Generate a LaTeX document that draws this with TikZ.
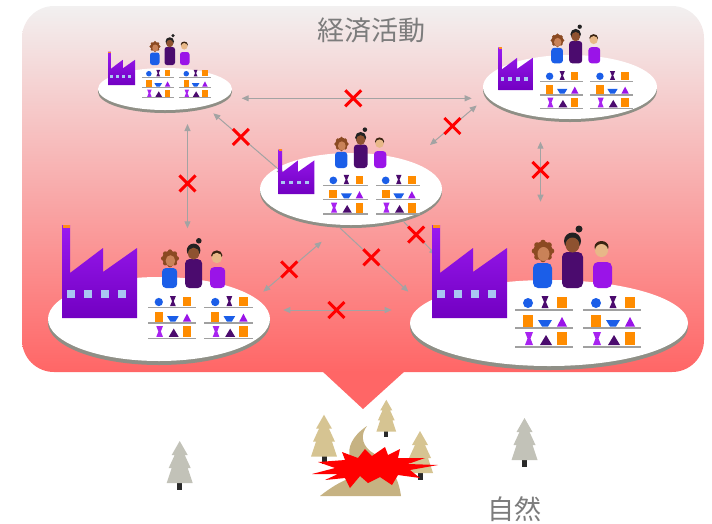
\documentclass[tikz,border=0pt]{standalone}
\usepackage{fontspec}
\newfontfamily\jpfont{Noto Sans CJK JP}
\usetikzlibrary{arrows.meta,shapes.misc}

\definecolor{bgtop}{HTML}{F2F0F0}
\definecolor{bgmid}{HTML}{F7C8C8}
\definecolor{bgbot}{HTML}{FF6666}
\definecolor{rim}{HTML}{8F8F86}
\definecolor{linkgray}{HTML}{A3A3A3}
\definecolor{violettop}{HTML}{9A1AF0}
\definecolor{violetbot}{HTML}{7200C2}
\definecolor{winblue}{HTML}{A9C6F2}
\definecolor{chimtip}{HTML}{FF8C1A}
\definecolor{itemblue}{HTML}{1B5EE8}
\definecolor{itemdark}{HTML}{4B0B6E}
\definecolor{itempurple}{HTML}{9A14E8}
\definecolor{itemlilac}{HTML}{A823F0}
\definecolor{itemorange}{HTML}{FF8C00}
\definecolor{shelfgray}{HTML}{A0A0A0}
\definecolor{skinA}{HTML}{C98258}
\definecolor{hairA}{HTML}{8B4A22}
\definecolor{skinB}{HTML}{8E5230}
\definecolor{hairB}{HTML}{222222}
\definecolor{skinC}{HTML}{E8B888}
\definecolor{hairC}{HTML}{3A2412}
\definecolor{treegray}{HTML}{C2C2B8}
\definecolor{treetan}{HTML}{D6C492}
\definecolor{hilltan}{HTML}{C6B282}
\definecolor{trunk}{HTML}{2A2A2A}
\definecolor{textgray}{HTML}{7C7C7C}

% island disc: centre x, centre y, radii, rim drop
\newcommand{\isle}[5]{%
  \fill[rim] (#1,#2+#5) ellipse ({#3pt} and {#4pt});
  \fill[white] (#1,#2) ellipse ({#3pt} and {#4pt});}

% factory, origin at its lower left corner
\newcommand{\factory}[3]{%
  \begin{scope}[shift={(#1,#2)},scale=#3]
    \shade[top color=violettop,bottom color=violetbot] (0,0) -- (0,-93) -- (8,-93) -- (8,-45) -- (41,-70) -- (41,-46) -- (75,-70) -- (75,0) -- cycle;
    \fill[chimtip] (0.5,-93) rectangle (7.5,-90);
    \foreach \wx in {5,22,39,56}
      \fill[winblue] (\wx,-28) rectangle ++(8,8);
  \end{scope}}

% three workers, origin under the middle one
\newcommand{\crowd}[3]{%
  \begin{scope}[shift={(#1,#2)},scale=#3]
    \fill[hairA] (-30,-37) circle (9.5);
    \foreach \a in {0,45,...,315}
      \fill[hairA] ([shift={(\a:8.5)}]-30,-37) circle (2.8);
    \fill[skinA] (-29.5,-34) ellipse (6 and 7);
    \fill[itemblue,rounded corners={5pt*#3}] (-40,0) rectangle (-21,-25);
    \fill[itemdark,rounded corners={5pt*#3}] (-11,0) rectangle (10,-36);
    \fill[hairB] (-0.5,-47) circle (8.5);
    \fill[hairB] (6,-59) circle (3.5);
    \fill[skinB] (-0.5,-43) ellipse (7 and 7.5);
    \fill[itempurple,rounded corners={5pt*#3}] (20,0) rectangle (39,-26);
    \fill[hairC] (28.5,-41) ellipse (7 and 6);
    \fill[skinC] (28.5,-37.5) ellipse (6.5 and 6.5);
  \end{scope}}

% two shelf units, origin at the left end of the top board
\newcommand{\goods}[3]{%
  \begin{scope}[shift={(#1,#2)},scale=#3]
    \foreach \c in {0,68}{
      \begin{scope}[shift={(\c,0)}]
        \fill[shelfgray] (0,-0.2) rectangle (58,1.6);
        \fill[shelfgray] (0,18.3) rectangle (58,20.1);
        \fill[shelfgray] (0,36.8) rectangle (58,38.6);
        \fill[itemblue] (13,-6) circle (5);
        \fill[itemdark] (26.5,-13) -- (33.5,-13) -- (31,-7) -- (33.5,-1) -- (26.5,-1) -- (29,-7) -- cycle;
        \fill[itemorange] (42,-12) rectangle (52,-1);
        \fill[itemorange] (8,6) rectangle (18,17.5);
        \fill[itemblue] (23,11) -- (37,11) -- (33,17.5) -- (27,17.5) -- cycle;
        \fill[itempurple] (42,17.5) -- (47,8) -- (52,17.5) -- cycle;
        \fill[itemlilac] (10,23) -- (18,23) -- (15.5,29.5) -- (18,36) -- (10,36) -- (12.5,29.5) -- cycle;
        \fill[itemdark] (25,36) -- (31,26) -- (37,36) -- cycle;
        \fill[itemorange] (42,23) rectangle (52,36);
      \end{scope}}
  \end{scope}}

% pine tree, origin at the foot of the crown
\newcommand{\pine}[4]{%
  \begin{scope}[shift={(#1,#2)},scale=#3]
    \fill[trunk] (-2.5,-1) rectangle (2.5,7);
    \fill[#4] (0,-42) -- (-8,-28) -- (-5,-28) -- (-11,-15) -- (-8,-15) -- (-13,0) -- (13,0) -- (8,-15) -- (11,-15) -- (5,-28) -- (8,-28) -- cycle;
  \end{scope}}

\begin{document}
\begin{tikzpicture}[line cap=round,line join=round,x=1pt,y=-1pt,
  >={Triangle[length=7pt,width=6pt]},
  link/.style={draw=linkgray,line width=1pt},
  nogo/.style={draw=red,cross out,line width=3pt,line cap=butt,minimum size=13pt,inner sep=0pt},
  title/.style={font=\jpfont\fontsize{27}{30}\selectfont,text=textgray,inner sep=0pt}]
\useasboundingbox (0,0) rectangle (712,523);

\shade[top color=bgtop,middle color=bgmid,bottom color=bgbot,rounded corners=32pt] (22,6) rectangle (704,372);
\fill[bgbot] (322,371) -- (405,371) -- (363,409) -- cycle;
\node[title] (econ) at (371,30) {経済活動};

\isle{165}{89}{67}{21}{3}
\isle{570}{87}{87}{32}{3}
\isle{351}{189}{91}{36}{3}
\isle{159}{319}{111}{42}{4}
\isle{549}{323}{139}{43}{4}

\coordinate (tlE) at (241.7,98.3);
\coordinate (trW) at (471.7,98.3);
\coordinate (trSW) at (476.7,105.5);
\coordinate (cNE) at (430,145);
\coordinate (trS) at (540.5,141.7);
\coordinate (brN) at (540.5,201.7);
\coordinate (tlS) at (187.5,124);
\coordinate (blN) at (187.5,228.3);
\coordinate (tlSE) at (213.3,113.3);
\coordinate (cW) at (284,174);
\coordinate (cSW) at (321.7,241.7);
\coordinate (blNE) at (263.3,291.7);
\coordinate (cS) at (340,228);
\coordinate (brW) at (408.3,291.7);
\coordinate (cSE) at (403,221);
\coordinate (brF) at (436,255);
\coordinate (blE) at (283.3,310);
\coordinate (brWW) at (391.7,310);

\draw[link,<->] (tlE) -- node[nogo,pos=.485] {} (trW);
\draw[link,<->] (trSW) -- node[nogo,pos=.52] {} (cNE);
\draw[link,<->] (trS) -- node[nogo,pos=.47] {} (brN);
\draw[link,<->] (tlS) -- node[nogo,pos=.57] {} (blN);
\draw[link,<->] (tlSE) -- node[nogo,pos=.39] {} (cW);
\draw[link,<->] (cSW) -- node[nogo,pos=.555] {} (blNE);
\draw[link,->] (cS) -- node[nogo,pos=.46] {} (brW);
\draw[link,->] (cSE) -- node[nogo,pos=.4] {} (brF);
\draw[link,<->] (blE) -- node[nogo,pos=.49] {} (brWW);

\factory{108}{85}{.36}
\factory{498.3}{90}{.46}
\factory{278.3}{194}{.48}
\factory{62}{318}{1}
\factory{432}{318}{1}

\crowd{170}{65}{.5}
\crowd{576}{63.3}{.62}
\crowd{361}{168}{.65}
\crowd{194}{288}{.8}
\crowd{573}{288}{1}

\goods{141.7}{77}{.55}
\goods{540}{80.7}{.74}
\goods{323.3}{185}{.77}
\goods{148}{307}{.83}
\goods{515}{309}{1}

\pine{179.7}{483}{1}{treegray}
\pine{524.5}{460}{1}{treegray}
\fill[hilltan] (320,496) .. controls (330,488) and (340,482) .. (348,479) -- (350,458) .. controls (347,448) and (352,436) .. (367,426) .. controls (361,434) and (361,443) .. (370,451) .. controls (388,462) and (398,474) .. (401,496) -- cycle;
\pine{324}{456.7}{1}{treetan}
\pine{386.3}{431.7}{.76}{treetan}
\pine{420}{473}{1}{treetan}
\fill[red] (312,474) -- (335,468) -- (318,462) -- (345,460) -- (342,452) -- (358,458) -- (365,449) -- (372,456) -- (385,447) -- (388,455) -- (400,449) -- (398,458) -- (425,458) -- (408,464) -- (438,465) -- (410,470) -- (420,478) -- (398,475) -- (392,485) -- (380,477) -- (368,483) -- (360,476) -- (350,488) -- (345,478) -- (325,480) -- (338,474) -- cycle;
\node[title] (nature) at (514,509) {自然};
\end{tikzpicture}
\end{document}
